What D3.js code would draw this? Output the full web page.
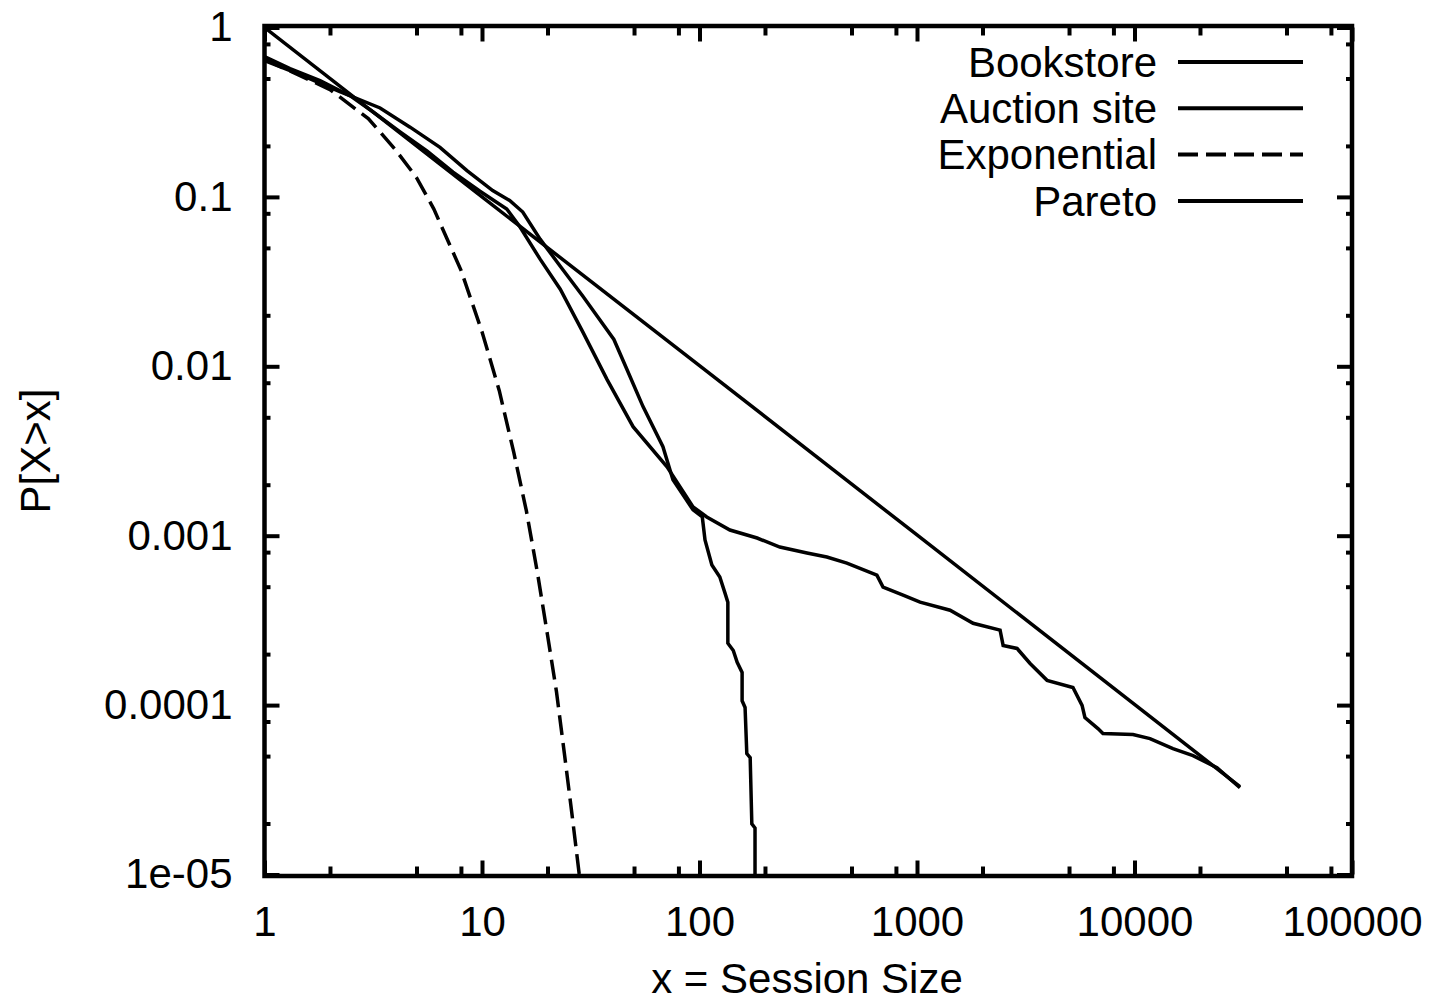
<!DOCTYPE html>
<html><head><meta charset="utf-8">
<script src="https://cdn.jsdelivr.net/npm/d3@7"></script>
<style>
html,body{margin:0;padding:0;background:#fff;}
svg{display:block;}
text{font-family:"Liberation Sans",Arial,sans-serif;fill:#000;}
</style>
</head><body>
<svg id="chart" width="1431" height="1004"></svg>
<script>
// ---- data ----
const bookstore = [[1.0,0.674],[1.31,0.572],[1.80,0.486],[2.47,0.396],[3.15,0.318],[4.20,0.242],[5.58,0.187],[7.36,0.140],[9.79,0.108],[13.0,0.0848],[14.96,0.0664],[18.5,0.0429],[22.9,0.0285],[29.1,0.0159],[37.6,0.00835],[49.5,0.0044],[70.9,0.00255],[93.4,0.00148],[108,0.00129],[138,0.00108],[184,0.000969],[234,0.000857],[312,0.00079],[385,0.000748],[476,0.000689],[654,0.000585],[698,0.000497],[863,0.000446],[1033,0.000405],[1419,0.000363],[1811,0.000304],[2410,0.000277],[2489,0.000225],[2884,0.000216],[3311,0.000176],[3963,0.00014],[5212,0.000127],[5741,0.0000995],[5916,0.0000845],[6792,0.0000727],[7161,0.0000679],[9840,0.000067],[11780,0.0000634],[15020,0.0000553],[18580,0.0000503],[23950,0.0000427],[30540,0.0000325]];
const auction = [[1.0,0.638],[1.46,0.527],[2.22,0.418],[3.40,0.335],[4.67,0.258],[6.41,0.196],[8.53,0.143],[11.2,0.109],[13.4,0.0952],[15.4,0.0814],[18.5,0.0563],[22.9,0.039],[29.1,0.0259],[40.4,0.0144],[46.4,0.00958],[55.0,0.00578],[67.9,0.00335],[75.5,0.00214],[93.4,0.00142],[103,0.00129],[106,0.000944],[114,0.000671],[124,0.00057],[131,0.000458],[135,0.000405],[135,0.000232],[143,0.00021],[149,0.000179],[157,0.000156],[157,0.000106],[162,0.0000968],[165,0.0000517],[171,0.000049],[174,0.0000199],[180,0.0000188],[180,0.00001]];
const exponential = [[1,0.65],[2,0.43],[3,0.29],[4,0.19],[5,0.13],[6,0.085],[8,0.037],[10,0.016],[12,0.0072],[14,0.0031],[16,0.0014],[18,0.0006],[20,0.00026],[22,0.00012],[24,0.00005],[26,0.000022],[28,0.00001]];
const pareto = [[1,1],[10,0.1],[100,0.0101],[1000,0.00101],[10000,0.000101],[30540,0.000033]];
const seriesNames = ["Bookstore","Auction site","Exponential","Pareto"];
const xMajorTicks = [1,10,100,1000,10000,100000];
const xTickLabels = ["1","10","100","1000","10000","100000"];
const yMajorTicks = [1,0.1,0.01,0.001,0.0001,0.00001];
const yTickLabels = ["1","0.1","0.01","0.001","0.0001","1e-05"];
const minorMultipliers = [2,5,8];
const xTitle = "x = Session Size";
const yTitle = "P[X>x]";

// ---- layout ----
const L = 264.5, R = 1352, T = 27.5, B = 874.5;
const FONT = 42;
const svg = d3.select("#chart");
const x = d3.scaleLog().domain([1,100000]).range([L,R]);
const y = d3.scaleLog().domain([0.00001,1]).range([B,T]);

const xMinor = [];
xMajorTicks.slice(0,-1).forEach(d => minorMultipliers.forEach(m => xMinor.push(d*m)));
const yMinor = [];
yMajorTicks.slice(1).forEach(d => minorMultipliers.forEach(m => yMinor.push(d*m)));

function styleAxis(g, w){
  g.select(".domain").remove();
  g.selectAll(".tick line").attr("stroke","#000").attr("stroke-width",w);
  g.selectAll(".tick text").attr("font-size",FONT).attr("fill","#000")
    .attr("font-family","'Liberation Sans',Arial,sans-serif");
}

// bottom major with labels
svg.append("g").attr("transform",`translate(0,${B})`)
  .call(d3.axisBottom(x).tickValues(xMajorTicks).tickFormat((d,i)=>xTickLabels[i]).tickSize(-14).tickPadding(32))
  .call(g=>styleAxis(g,4));
svg.append("g").attr("transform",`translate(0,${B})`)
  .call(d3.axisBottom(x).tickValues(xMinor).tickFormat("").tickSize(-8))
  .call(g=>styleAxis(g,4));
// top mirror
svg.append("g").attr("transform",`translate(0,${T})`)
  .call(d3.axisTop(x).tickValues(xMajorTicks).tickFormat("").tickSize(-14))
  .call(g=>styleAxis(g,4));
svg.append("g").attr("transform",`translate(0,${T})`)
  .call(d3.axisTop(x).tickValues(xMinor).tickFormat("").tickSize(-8))
  .call(g=>styleAxis(g,4));
// left major with labels
svg.append("g").attr("transform",`translate(${L},0)`)
  .call(d3.axisLeft(y).tickValues(yMajorTicks).tickFormat((d,i)=>yTickLabels[i]).tickSize(-15).tickPadding(32))
  .call(g=>styleAxis(g,4));
svg.append("g").attr("transform",`translate(${L},0)`)
  .call(d3.axisLeft(y).tickValues(yMinor).tickFormat("").tickSize(-6))
  .call(g=>styleAxis(g,4));
// right mirror
svg.append("g").attr("transform",`translate(${R},0)`)
  .call(d3.axisRight(y).tickValues(yMajorTicks).tickFormat("").tickSize(-15))
  .call(g=>styleAxis(g,4));
svg.append("g").attr("transform",`translate(${R},0)`)
  .call(d3.axisRight(y).tickValues(yMinor).tickFormat("").tickSize(-6))
  .call(g=>styleAxis(g,4));

// frame
svg.append("rect").attr("x",L).attr("y",T-1.5).attr("width",R-L).attr("height",B-T+3)
  .attr("fill","none").attr("stroke","#000").attr("stroke-width",4.5);

// clip
svg.append("clipPath").attr("id","clip").append("rect")
  .attr("x",L).attr("y",T).attr("width",R-L).attr("height",B-T);

const line = d3.line().x(d=>x(d[0])).y(d=>y(d[1]));
const series = [
  {name:seriesNames[0], data:bookstore, dash:null},
  {name:seriesNames[1], data:auction, dash:null},
  {name:seriesNames[2], data:exponential, dash:"20,8"},
  {name:seriesNames[3], data:pareto, dash:null}
];
const plot = svg.append("g").attr("clip-path","url(#clip)");
series.forEach(s=>{
  plot.append("path").datum(s.data).attr("d",line)
    .attr("fill","none").attr("stroke","#000").attr("stroke-width",3.5)
    .attr("stroke-linejoin","miter")
    .attr("stroke-dasharray",s.dash);
});

// legend
const legY0 = 62, legDy = 46.3;
series.forEach((s,i)=>{
  const yy = legY0 + i*legDy;
  svg.append("text").attr("x",1157).attr("y",yy).attr("dy","0.35em")
    .attr("text-anchor","end").attr("font-size",FONT).text(s.name);
  svg.append("line").attr("x1",1178).attr("x2",1303).attr("y1",yy).attr("y2",yy)
    .attr("stroke","#000").attr("stroke-width",4).attr("stroke-dasharray",s.dash);
});

// axis titles
svg.append("text").attr("x",807).attr("y",993).attr("text-anchor","middle")
  .attr("font-size",FONT).text(xTitle);
svg.append("text").attr("transform","translate(50,451) rotate(-90)")
  .attr("text-anchor","middle").attr("font-size",FONT).text(yTitle);
</script>
</body></html>
